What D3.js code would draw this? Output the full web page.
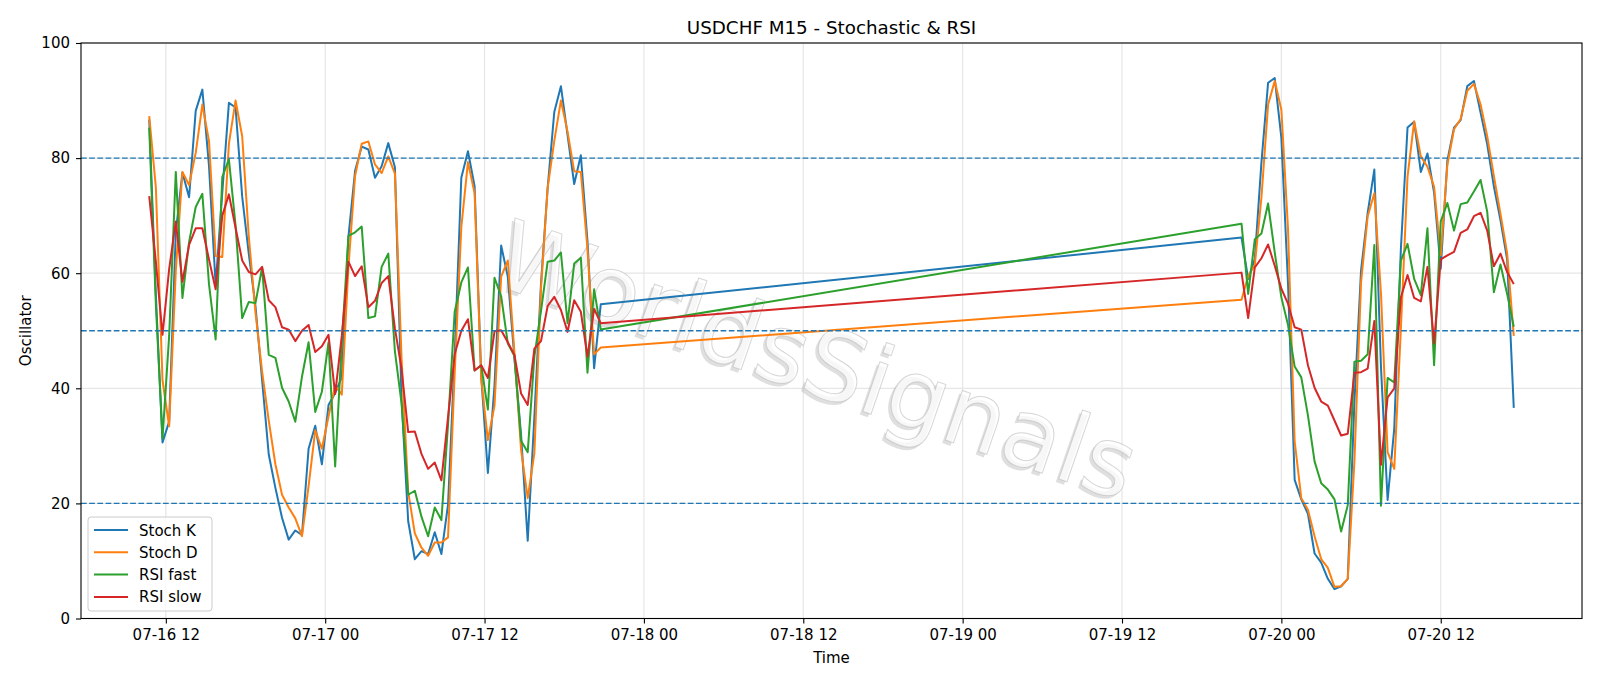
<!DOCTYPE html>
<html>
<head>
<meta charset="utf-8">
<script src="https://d3js.org/d3.v7.min.js"></script>
<style>
  body { margin: 0; background: #fff; }
  svg { display: block; font-family: "DejaVu Sans", sans-serif; }
</style>
</head>
<body>
<div id="vis"></div>
<script>
/*
USDCHF M15 oscillator chart
*/

const FRAME_WIDTH = 1600;
const FRAME_HEIGHT = 686;
const PLOT = {left: 81, right: 1582, top: 43, bottom: 618.5};

// two trading blocks, one value every 30 minutes
const START_A = Date.UTC(2020, 6, 16, 10, 45);
const START_B = Date.UTC(2020, 6, 19, 21, 0);
const STEP_MIN = 30;

const stochK_a = [86.7, 56.2, 30.6, 34.2, 67.1, 77.5, 73.2, 88.2, 91.9, 78.7,
  57.9, 74.0, 89.6, 88.8, 73.3, 63.3, 54.3, 41.4, 28.5, 22.7,
  17.5, 13.7, 15.3, 14.5, 29.5, 33.5, 26.8, 37.1, 39.2, 41.9,
  66.3, 77.8, 82.0, 81.5, 76.6, 78.6, 82.6, 78.4, 38.1, 16.9,
  10.3, 11.7, 11.2, 15.0, 11.2, 19.8, 45.8, 76.6, 81.2, 75.1,
  42.1, 25.3, 40.5, 64.8, 59.4, 45.2, 31.9, 13.5, 35.0, 58.2,
  74.8, 88.0, 92.5, 84.0, 75.5, 80.5, 65.6, 43.5, 54.6];
const stochD_a = [87.3, 74.9, 41.4, 33.4, 60.4, 77.6, 75.3, 80.9, 89.3, 83.0,
  63.0, 62.8, 82.5, 90.0, 83.8, 66.3, 53.2, 42.9, 34.4, 26.8,
  21.5, 19.3, 17.4, 14.3, 23.0, 32.7, 29.5, 35.1, 40.5, 38.9,
  61.1, 76.9, 82.5, 82.9, 78.9, 77.4, 80.3, 77.3, 45.2, 22.0,
  14.8, 12.3, 10.9, 13.2, 13.2, 14.1, 42.6, 68.0, 79.3, 73.9,
  41.6, 31.0, 37.0, 59.4, 62.2, 46.2, 29.3, 20.9, 28.7, 57.3,
  74.8, 83.0, 90.0, 84.6, 77.7, 77.6, 64.2, 45.9, 47.1];
const rsiFast_a = [85.3, 54.5, 31.3, 49.1, 77.6, 55.7, 65.4, 71.5, 73.8, 58.1,
  48.5, 76.7, 79.8, 68.3, 52.2, 55.0, 54.8, 61.0, 45.8, 45.3,
  40.1, 37.7, 34.2, 42.0, 48.0, 35.9, 39.4, 48.0, 26.4, 47.8,
  66.5, 67.1, 68.1, 52.2, 52.5, 61.1, 63.4, 46.4, 37.4, 21.5,
  22.2, 17.7, 14.3, 19.3, 17.1, 33.7, 53.3, 58.4, 61.0, 43.1,
  44.0, 36.3, 59.2, 56.0, 47.8, 45.6, 30.9, 28.9, 45.5, 53.4,
  62.0, 62.2, 63.6, 51.3, 61.7, 62.7, 42.7, 57.2, 50.2];
const rsiSlow_a = [73.4, 62.0, 49.3, 60.7, 69.0, 58.5, 64.9, 67.8, 67.8, 62.4,
  57.2, 70.0, 73.7, 67.9, 62.2, 60.2, 59.8, 61.1, 55.3, 54.1,
  50.6, 50.2, 48.2, 50.0, 51.0, 46.3, 47.3, 49.3, 39.0, 49.1,
  62.0, 59.5, 61.2, 54.1, 55.2, 58.3, 59.5, 50.4, 43.4, 32.4,
  32.5, 28.6, 26.0, 27.1, 24.0, 35.0, 45.9, 50.0, 52.0, 43.1,
  44.0, 41.8, 49.9, 50.1, 48.0, 45.8, 39.1, 37.1, 46.9, 48.2,
  54.3, 55.9, 53.6, 49.8, 55.3, 53.3, 45.5, 53.8, 51.3];

const stochK_b = [66.2, 59.0, 62.5, 79.3, 93.1, 93.9, 83.5, 58.2, 24.1, 20.7,
  18.2, 11.3, 9.7, 6.9, 5.1, 5.6, 6.9, 37.6, 60.5, 70.5,
  78.0, 43.7, 20.6, 33.0, 64.3, 85.3, 86.3, 77.6, 80.8, 74.0,
  60.8, 79.6, 85.3, 86.6, 92.5, 93.4, 87.9, 82.4, 75.1, 69.2,
  62.4, 36.6];
const stochD_b = [55.4, 59.5, 61.4, 73.2, 89.3, 93.4, 88.4, 67.7, 30.8, 20.9,
  18.9, 14.3, 10.3, 8.8, 5.5, 5.6, 6.9, 27.3, 58.4, 69.9,
  73.9, 56.5, 28.9, 26.0, 50.4, 76.8, 86.4, 80.3, 78.5, 75.0,
  63.1, 78.8, 85.0, 86.8, 91.7, 92.9, 89.3, 83.8, 76.9, 70.3,
  63.5, 49.1];
const rsiFast_b = [68.6, 56.4, 65.9, 66.9, 72.1, 63.6, 55.8, 51.0, 43.8, 41.9,
  35.3, 27.3, 23.5, 22.4, 20.7, 15.1, 19.7, 44.6, 44.8, 45.9,
  64.9, 19.6, 41.8, 41.0, 62.2, 65.1, 59.0, 56.2, 67.8, 44.0,
  69.0, 72.2, 67.4, 72.0, 72.3, 74.2, 76.2, 70.7, 56.7, 61.5,
  56.4, 50.7];
const rsiSlow_b = [60.1, 52.2, 61.0, 62.6, 65.0, 61.3, 57.3, 54.7, 50.6, 50.2,
  44.0, 40.1, 37.7, 37.0, 34.4, 31.8, 32.1, 42.7, 42.8, 43.4,
  51.7, 26.7, 38.4, 40.0, 55.8, 59.7, 55.7, 55.1, 61.1, 47.8,
  62.4, 63.1, 63.7, 67.0, 67.6, 69.9, 70.5, 67.4, 61.2, 63.4,
  60.2, 58.1];

const SERIES_NAMES = ["Stoch K", "Stoch D", "RSI fast", "RSI slow"];
const COLORS = ["#1f77b4", "#ff7f0e", "#2ca02c", "#d62728"];
const LEVELS = [20, 50, 80];
const Y_TICKS = [0, 20, 40, 60, 80, 100];

// join the two blocks into one line per series
function toPoints(a, b) {
  const pts = a.map((v, i) => ({t: new Date(START_A + i * STEP_MIN * 60000), v: v}));
  return pts.concat(b.map((v, i) => ({t: new Date(START_B + i * STEP_MIN * 60000), v: v})));
}

const data = [
  toPoints(stochK_a, stochK_b),
  toPoints(stochD_a, stochD_b),
  toPoints(rsiFast_a, rsiFast_b),
  toPoints(rsiSlow_a, rsiSlow_b)
];

const allTimes = data[0].map(d => d.t);
const T_MIN = d3.min(allTimes);
const T_MAX = d3.max(allTimes);
const PAD = (T_MAX - T_MIN) * 0.05;

const X_SCALE = d3.scaleUtc()
    .domain([new Date(+T_MIN - PAD), new Date(+T_MAX + PAD)])
    .range([PLOT.left, PLOT.right]);

const Y_SCALE = d3.scaleLinear()
    .domain([0, 100])
    .range([PLOT.bottom, PLOT.top]);

const FRAME = d3.select("#vis")
    .append("svg")
    .attr("width", FRAME_WIDTH)
    .attr("height", FRAME_HEIGHT);

FRAME.append("rect")
    .attr("width", FRAME_WIDTH)
    .attr("height", FRAME_HEIGHT)
    .attr("fill", "#fff");

const X_TICKS = d3.utcHour.every(12).range(X_SCALE.domain()[0], X_SCALE.domain()[1]);
const fmt = d3.utcFormat("%m-%d %H");

// grid
FRAME.append("g").selectAll("line")
    .data(X_TICKS)
    .enter()
    .append("line")
    .attr("x1", d => X_SCALE(d)).attr("x2", d => X_SCALE(d))
    .attr("y1", PLOT.top).attr("y2", PLOT.bottom)
    .attr("stroke", "#e6e6e6")
    .attr("stroke-width", 1.2);

FRAME.append("g").selectAll("line")
    .data(Y_TICKS)
    .enter()
    .append("line")
    .attr("x1", PLOT.left).attr("x2", PLOT.right)
    .attr("y1", d => Y_SCALE(d)).attr("y2", d => Y_SCALE(d))
    .attr("stroke", "#e6e6e6")
    .attr("stroke-width", 1.2);

// watermark, a soft shadow under a light outlined copy
const WM = {x: 806, y: 392, angle: 19, size: 96, text: "WorldsSignals"};
FRAME.append("text")
    .attr("transform", "translate(" + (WM.x - 3) + "," + (WM.y + 3) + ") rotate(" + WM.angle + ")")
    .attr("text-anchor", "middle")
    .attr("font-size", WM.size)
    .attr("fill", "#999")
    .attr("opacity", 0.3)
    .text(WM.text);
FRAME.append("text")
    .attr("transform", "translate(" + WM.x + "," + WM.y + ") rotate(" + WM.angle + ")")
    .attr("text-anchor", "middle")
    .attr("font-size", WM.size)
    .attr("fill", "#fff")
    .attr("fill-opacity", 0.75)
    .attr("stroke", "#bbb")
    .attr("stroke-width", 1)
    .attr("stroke-opacity", 0.6)
    .text(WM.text);

// series lines
const line = d3.line()
    .x(d => X_SCALE(d.t))
    .y(d => Y_SCALE(d.v));

FRAME.append("g").selectAll("path")
    .data(data)
    .enter()
    .append("path")
    .attr("d", d => line(d))
    .attr("fill", "none")
    .attr("stroke", (d, i) => COLORS[i])
    .attr("stroke-width", 2)
    .attr("stroke-linejoin", "round");

// level lines
FRAME.append("g").selectAll("line")
    .data(LEVELS)
    .enter()
    .append("line")
    .attr("x1", PLOT.left).attr("x2", PLOT.right)
    .attr("y1", d => Y_SCALE(d)).attr("y2", d => Y_SCALE(d))
    .attr("stroke", "#1f77b4")
    .attr("stroke-width", 1.4)
    .attr("stroke-dasharray", "5.7,2.5");

// axes
const xAxis = FRAME.append("g")
    .attr("transform", "translate(0," + PLOT.bottom + ")")
    .call(d3.axisBottom(X_SCALE).tickValues(X_TICKS).tickFormat(fmt).tickSizeOuter(0).tickSize(5).tickPadding(6));

const yAxis = FRAME.append("g")
    .attr("transform", "translate(" + PLOT.left + ",0)")
    .call(d3.axisLeft(Y_SCALE).tickValues(Y_TICKS).tickSizeOuter(0).tickSize(5).tickPadding(6));

[xAxis, yAxis].forEach(ax => {
  ax.select(".domain").remove();
  ax.selectAll("text")
      .attr("font-family", "DejaVu Sans, sans-serif")
      .attr("font-size", 15)
      .attr("fill", "#000");
  ax.selectAll("line").attr("stroke", "#000").attr("stroke-width", 1.1);
});

// frame around the plot
FRAME.append("rect")
    .attr("x", PLOT.left)
    .attr("y", PLOT.top)
    .attr("width", PLOT.right - PLOT.left)
    .attr("height", PLOT.bottom - PLOT.top)
    .attr("fill", "none")
    .attr("stroke", "#000")
    .attr("stroke-width", 1.1);

// labels
FRAME.append("text")
    .attr("x", (PLOT.left + PLOT.right) / 2)
    .attr("y", 34)
    .attr("text-anchor", "middle")
    .attr("font-size", 18.3)
    .text("USDCHF M15 - Stochastic & RSI");

FRAME.append("text")
    .attr("x", (PLOT.left + PLOT.right) / 2)
    .attr("y", 663)
    .attr("text-anchor", "middle")
    .attr("font-size", 15)
    .text("Time");

FRAME.append("text")
    .attr("transform", "translate(31," + ((PLOT.top + PLOT.bottom) / 2) + ") rotate(-90)")
    .attr("text-anchor", "middle")
    .attr("font-size", 15)
    .text("Oscillator");

// legend
const LEGEND = FRAME.append("g").attr("transform", "translate(88,517)");
LEGEND.append("rect")
    .attr("width", 124)
    .attr("height", 94)
    .attr("rx", 3)
    .attr("fill", "#fff")
    .attr("fill-opacity", 0.8)
    .attr("stroke", "#ccc");

const rows = LEGEND.selectAll("g.row")
    .data(SERIES_NAMES)
    .enter()
    .append("g")
    .attr("class", "row")
    .attr("transform", (d, i) => "translate(0," + (13 + i * 22.3) + ")");

rows.append("line")
    .attr("x1", 6).attr("x2", 40)
    .attr("stroke", (d, i) => COLORS[i])
    .attr("stroke-width", 2);

rows.append("text")
    .attr("x", 51)
    .attr("y", 5.5)
    .attr("font-size", 15)
    .text(d => d);
</script>
</body>
</html>
